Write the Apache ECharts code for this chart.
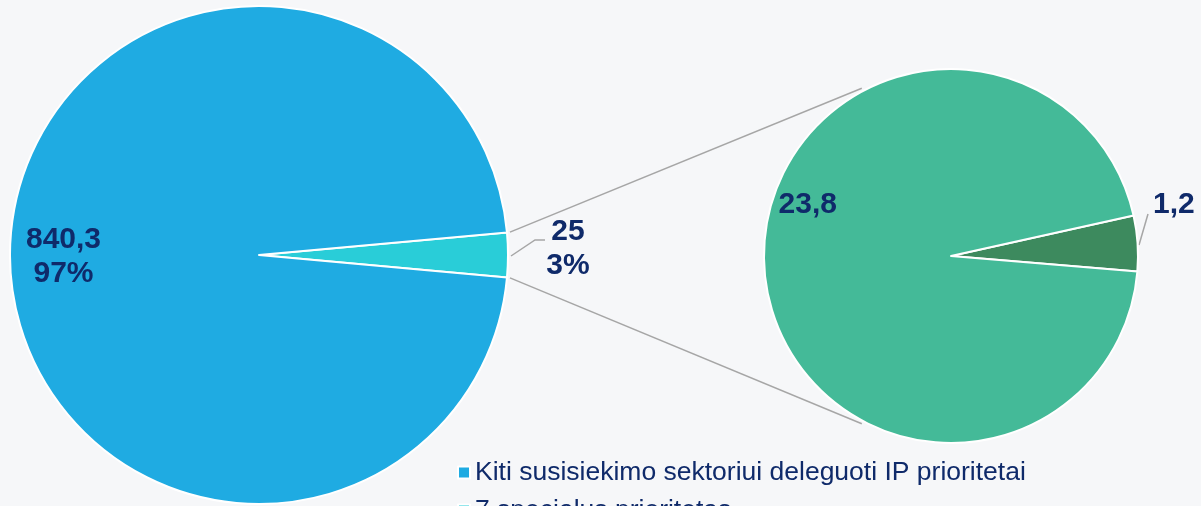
<!DOCTYPE html>
<html>
<head>
<meta charset="utf-8">
<script src="https://cdn.jsdelivr.net/npm/echarts@6/dist/echarts.min.js"></script>
<style>
  html, body { margin: 0; padding: 0; background: #f6f7f9; }
  #chart { width: 1201px; height: 506px; }
</style>
</head>
<body>
<div id="chart"></div>
<script>
// duomenys
const mainNames = ['7 specialus prioritetas', 'Kiti susisiekimo sektoriui deleguoti IP prioritetai'];
const mainValues = [25, 840.3];
const subNames = ['Dalis B', 'Dalis A'];
const subValues = [1.2, 23.8];
const legendNames = ['Kiti susisiekimo sektoriui deleguoti IP prioritetai', '7 specialus prioritetas'];

// spalvos
const mainColors = ['#29cdd8', '#1fabe2'];
const subColors = ['#3d8a5e', '#44ba98'];
const textColor = '#0f2a6a';
const guideColor = '#a6a6a6';

// pyragu vietos
const L = { cx: 259, cy: 255, r: 249 };
const R = { cx: 951, cy: 256, r: 187 };

const fmt = v => String(v).replace('.', ',');
const mainTotal = mainValues.reduce((a, b) => a + b, 0);
// mazas gabalas centruojamas ties 0 laipsniu
const mainStart = mainValues[0] / mainTotal * 360 / 2;
const subStart = 12.5;

const chart = echarts.init(document.getElementById('chart'));

// jungiamosios linijos tarp pyragu
const a1 = mainStart * Math.PI / 180;
const a2 = 118 * Math.PI / 180;
const connectors = [1, -1].map(s => ({
  type: 'line',
  shape: {
    x1: L.cx + (L.r + 3) * Math.cos(a1), y1: L.cy - s * (L.r + 3) * Math.sin(a1),
    x2: R.cx + (R.r + 3) * Math.cos(a2), y2: R.cy - s * (R.r + 3) * Math.sin(a2)
  },
  style: { stroke: guideColor, lineWidth: 1.5 },
  z: 1
}));

const labelFont = { fontFamily: 'Liberation Sans, Arial, sans-serif', fontSize: 30, fontWeight: 'bold', color: textColor, lineHeight: 34, overflow: 'none' };

chart.setOption({
  backgroundColor: '#f6f7f9',
  animation: false,
  legend: {
    data: legendNames,
    orient: 'vertical',
    left: 452,
    top: 454,
    height: 200,
    icon: 'rect',
    itemWidth: 12,
    itemHeight: 12,
    itemGap: 11,
    textStyle: { fontFamily: 'Liberation Sans, Arial, sans-serif', fontSize: 26.5, color: textColor }
  },
  graphic: connectors,
  series: [
    {
      type: 'pie',
      center: [L.cx, L.cy],
      radius: [0, L.r],
      startAngle: mainStart,
      clockwise: true,
      itemStyle: { borderColor: '#ffffff', borderWidth: 2 },
      data: mainNames.map((n, i) => ({
        name: n,
        value: mainValues[i],
        itemStyle: { color: mainColors[i] },
        label: i === 0
          ? { position: 'outside' }
          : { position: 'inside', offset: [-68, 2] },
        labelLine: { show: i === 0 }
      })),
      label: Object.assign({
        formatter: p => fmt(p.value) + '\n' + Math.round(p.percent) + '%'
      }, labelFont),
      labelLine: { lineStyle: { color: guideColor, width: 1.5 } },
      labelLayout: p => p.dataIndex === 0 ? {
        x: L.cx + L.r + 60, y: L.cy - 6, align: 'center', verticalAlign: 'middle',
        labelLinePoints: [
          [L.cx + L.r + 3, L.cy + 1],
          [L.cx + L.r + 27, L.cy - 15],
          [L.cx + L.r + 37, L.cy - 15]
        ]
      } : {}
    },
    {
      type: 'pie',
      center: [R.cx, R.cy],
      radius: [0, R.r],
      startAngle: subStart,
      clockwise: true,
      itemStyle: { borderColor: '#ffffff', borderWidth: 2 },
      data: subNames.map((n, i) => ({
        name: n,
        value: subValues[i],
        itemStyle: { color: subColors[i] },
        label: i === 0
          ? { position: 'outside' }
          : { position: 'inside', offset: [-47, -58] },
        labelLine: { show: i === 0 }
      })),
      label: Object.assign({ formatter: p => fmt(p.value) }, labelFont),
      labelLine: { lineStyle: { color: guideColor, width: 1.5 } },
      labelLayout: p => p.dataIndex === 0 ? {
        x: R.cx + R.r + 15, y: R.cy - 51, align: 'left', verticalAlign: 'middle',
        labelLinePoints: [
          [R.cx + R.r + 1, R.cy - 11],
          [R.cx + R.r + 10, R.cy - 42],
          [R.cx + R.r + 10, R.cy - 42]
        ]
      } : {}
    }
  ]
});
</script>
</body>
</html>
